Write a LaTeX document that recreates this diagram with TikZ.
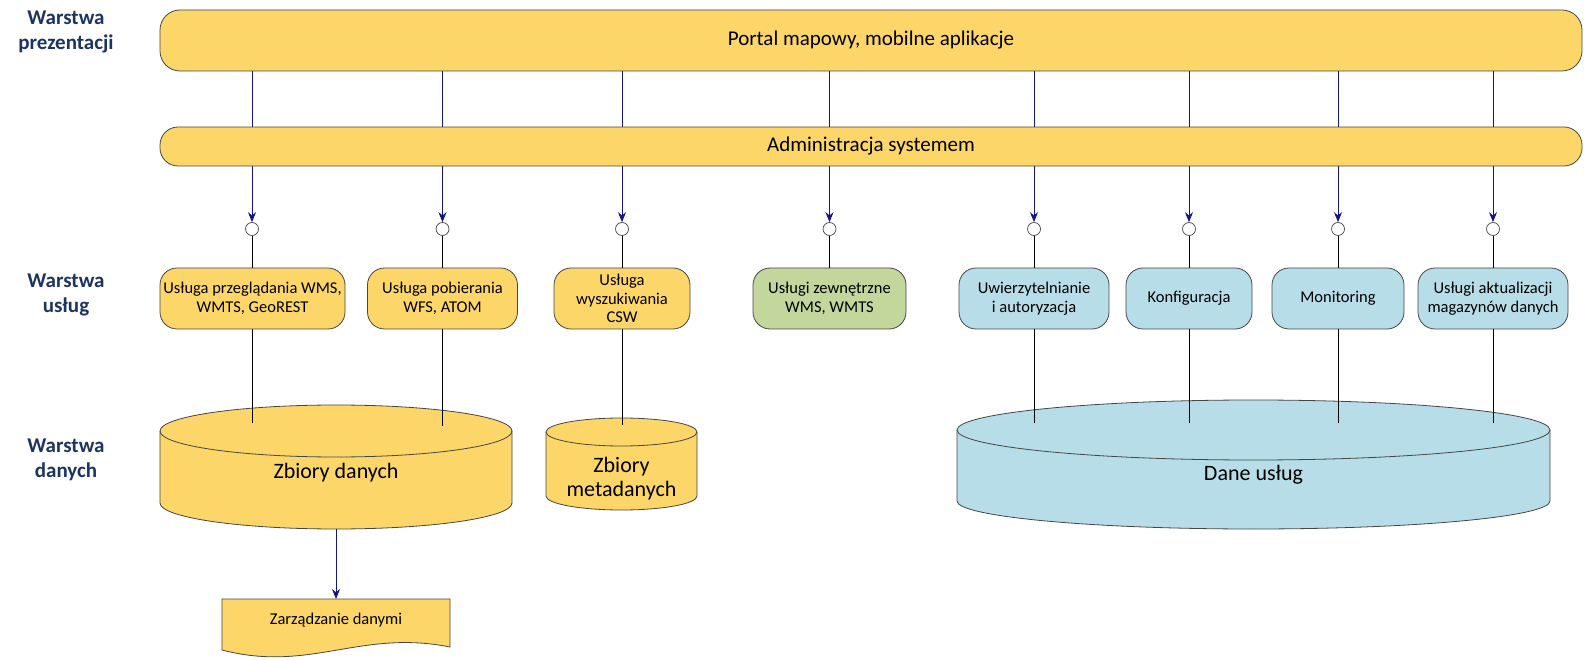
\documentclass[tikz,border=0pt]{standalone}
\usepackage{fontspec}
\setmainfont{Carlito}
\usetikzlibrary{arrows.meta}
\definecolor{yel}{RGB}{252,214,104}
\definecolor{lblue}{RGB}{183,221,232}
\definecolor{lgreen}{RGB}{195,214,155}
\definecolor{outl}{RGB}{70,70,70}
\definecolor{navyc}{RGB}{20,20,140}
\definecolor{labc}{RGB}{28,52,100}
\begin{document}
\begin{tikzpicture}[x=1pt,y=1pt,
  bar/.style={draw=outl, fill=yel, rounded corners=20pt, line width=0.8pt, inner sep=0pt, font=\fontsize{21}{24}\selectfont},
  svc/.style={draw=outl, fill=yel, rounded corners=17pt, line width=0.8pt, minimum height=61pt, inner sep=0pt, align=center, font=\fontsize{16.5}{18.5}\selectfont},
  port/.style={circle, draw=outl, fill=white, minimum size=13pt, inner sep=0pt, line width=0.7pt},
  navyline/.style={draw=navyc, line width=1pt},
  navyarrow/.style={navyline, -{Stealth[length=10pt,width=8pt]}},
  blk/.style={draw=black, line width=0.9pt},
  lay/.style={font=\bfseries\fontsize{21}{25}\selectfont, text=labc, align=center},
  cyl/.style={draw=outl, line width=0.8pt},
  big/.style={font=\fontsize{22}{24}\selectfont, align=center}
]
\useasboundingbox (0,0) rectangle (1584,659);

% layer labels
\node[lay] (l1) at (66,627) {Warstwa\\prezentacji};
\node[lay] (l2) at (66,364) {Warstwa\\usług};
\node[lay] (l3) at (66,199.5) {Warstwa\\danych};

% bars
\node[bar, minimum width=1422pt, minimum height=61pt] (top) at (871,618.5) {Portal mapowy, mobilne aplikacje};
\node[bar, rounded corners=18pt, minimum width=1422pt, minimum height=39pt] (adm) at (871,512.5) {Administracja systemem};

% services
\node[svc, minimum width=185pt] (s1) at (252.5,360.5) {Usługa przeglądania WMS,\\WMTS, GeoREST};
\node[svc, minimum width=150pt] (s2) at (442.5,360.5) {Usługa pobierania\\WFS, ATOM};
\node[svc, minimum width=136pt] (s3) at (622,360.5) {Usługa\\wyszukiwania\\CSW};
\node[svc, minimum width=153pt, fill=lgreen] (s4) at (829.5,360.5) {Usługi zewnętrzne\\WMS, WMTS};
\node[svc, minimum width=150pt, fill=lblue] (s5) at (1034,360.5) {Uwierzytelnianie\\i autoryzacja};
\node[svc, minimum width=126pt, fill=lblue] (s6) at (1189,360.5) {Konfiguracja};
\node[svc, minimum width=132pt, fill=lblue] (s7) at (1338,360.5) {Monitoring};
\node[svc, minimum width=150pt, fill=lblue] (s8) at (1493,360.5) {Usługi aktualizacji\\magazynów danych};

% ports and connectors
\foreach \i/\xx in {1/252,2/442.5,3/622,4/829.5,5/1034,6/1189,7/1338,8/1493}{
  \node[port] (p\i) at (\xx,430) {};
  \draw[navyline] (top.south -| p\i) -- (adm.north -| p\i);
  \draw[navyarrow] (adm.south -| p\i) -- (p\i.north);
  \draw[blk] (p\i.south) -- (s\i.north -| p\i);
}

% cylinder 1: Zbiory danych
\path[cyl, fill=yel] (160,228) -- (160,156) arc[start angle=180, end angle=360, x radius=176, y radius=26] -- (512,228) arc[start angle=0, end angle=180, x radius=176, y radius=26] -- cycle;
\draw[cyl] (160,228) arc[start angle=180, end angle=360, x radius=176, y radius=26];
\node[big] (c1) at (336,186) {Zbiory danych};
\coordinate (c1bot) at (336,130);

% cylinder 2: Zbiory metadanych
\path[cyl, fill=yel] (546,227) -- (546,163) arc[start angle=180, end angle=360, x radius=75.5, y radius=14] -- (697,227) arc[start angle=0, end angle=180, x radius=75.5, y radius=14] -- cycle;
\draw[cyl] (546,227) arc[start angle=180, end angle=360, x radius=75.5, y radius=14];
\node[big] (c2) at (621.5,180) {Zbiory\\metadanych};

% cylinder 3: Dane usług
\path[cyl, fill=lblue] (957,229) -- (957,158) arc[start angle=180, end angle=360, x radius=296.5, y radius=28] -- (1550,229) arc[start angle=0, end angle=180, x radius=296.5, y radius=30] -- cycle;
\draw[cyl] (957,229) arc[start angle=180, end angle=360, x radius=296.5, y radius=30];
\node[big] (c3) at (1253.5,184) {Dane usług};

% lines from services into data stores
\coordinate (e1) at (252,236);
\coordinate (e2) at (442.5,233);
\coordinate (e3) at (622,234);
\coordinate (e5) at (1034,236);
\coordinate (e6) at (1189,236);
\coordinate (e7) at (1338,236);
\coordinate (e8) at (1493,236);
\foreach \i in {1,2,3,5,6,7,8}{
  \draw[blk] (s\i.south -| e\i) -- (e\i);
}

% document: Zarządzanie danymi
\path[cyl, fill=yel] (222,60) -- (450,60) -- (450,12) .. controls (360,30) and (310,-14) .. (222,9) -- cycle;
\coordinate (doctop) at (336,60);
\node[font=\fontsize{16.5}{18}\selectfont] (doc) at (336,39) {Zarządzanie danymi};
\draw[navyarrow] (c1bot) -- (doctop);
\end{tikzpicture}
\end{document}
